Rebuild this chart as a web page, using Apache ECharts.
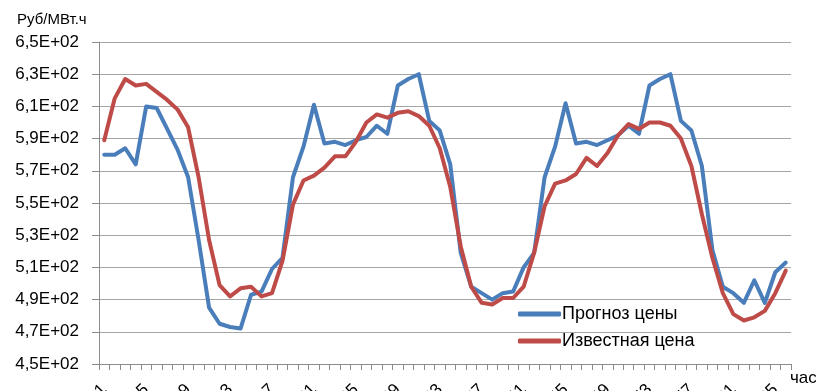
<!DOCTYPE html>
<html>
<head>
<meta charset="utf-8">
<script src="https://cdn.jsdelivr.net/npm/echarts@6/dist/echarts.min.js"></script>
<style>
  html, body { margin: 0; padding: 0; background: #fff; }
  #chart-container { width: 816px; height: 391px; }
</style>
</head>
<body>
<div id="chart-container"></div>
<script>
// hours 1..66
const hours = ['1','2','3','4','5','6','7','8','9','10','11','12','13','14','15','16','17','18','19','20','21','22',
  '23','24','25','26','27','28','29','30','31','32','33','34','35','36','37','38','39','40','41','42','43','44',
  '45','46','47','48','49','50','51','52','53','54','55','56','57','58','59','60','61','62','63','64','65','66'];

const forecastPrice = [580, 580, 584, 574, 610, 609, 596, 583, 566, 527, 485, 475, 473, 472, 493, 495, 509, 516,
  566, 585, 611, 587, 588, 586, 589, 591, 598, 593, 623, 627, 630, 601, 595, 574, 519, 498, 494, 490, 494, 495,
  510, 519, 566, 585, 612, 587, 588, 586, 589, 592, 598, 593, 623, 627, 630, 601, 595, 573, 521, 498, 494, 488,
  502, 488, 507, 513];

const knownPrice = [589, 615, 627, 623, 624, 619, 614, 608, 597, 566, 527, 499, 492, 497, 498, 492, 494, 514,
  549, 564, 567, 572, 579, 579, 588, 600, 605, 603, 606, 607, 604, 598, 584, 560, 523, 498, 488, 487, 491, 491,
  498, 519, 548, 562, 564, 568, 578, 573, 581, 592, 599, 596, 600, 600, 598, 590, 573, 543, 516, 494, 481, 477,
  479, 483, 494, 508];

const yTickLabels = ['4,5E+02', '4,7E+02', '4,9E+02', '5,1E+02', '5,3E+02', '5,5E+02', '5,7E+02', '5,9E+02',
  '6,1E+02', '6,3E+02', '6,5E+02'];

const chartDom = document.getElementById('chart-container');
const myChart = echarts.init(chartDom);
const FONT = 'Liberation Sans';

const option = {
    animation: false,
    title: {
        text: 'Руб/МВт.ч',
        left: 12,
        top: 7,
        textStyle: { fontSize: 15, fontWeight: 'normal', fontFamily: FONT, color: '#000' }
    },
    legend: {
        orient: 'vertical',
        left: 513,
        top: 300,
        icon: 'roundRect',
        itemWidth: 43,
        itemHeight: 5,
        itemGap: 9,
        textStyle: { fontSize: 18, fontFamily: FONT, color: '#000', padding: [0, 0, 0, -4] },
        data: ['Прогноз цены', 'Известная цена']
    },
    // keep the plot box fixed; the rotated hour labels run off the bottom edge
    grid: { left: 99, right: 25, top: 42, bottom: 27, containLabel: false, outerBoundsMode: 'none' },
    xAxis: {
        type: 'category',
        data: hours,
        boundaryGap: true,
        name: 'час',
        nameLocation: 'end',
        nameGap: -1,
        nameTextStyle: { fontSize: 17, fontFamily: FONT, color: '#000', verticalAlign: 'top', padding: [6, 0, 0, 0] },
        axisLine: { lineStyle: { color: '#8c8c8c', width: 1 } },
        axisTick: { show: true, interval: 0, length: 6, lineStyle: { color: '#8c8c8c' } },
        axisLabel: { interval: 3, rotate: 45, margin: 23, fontSize: 17, fontFamily: FONT, color: '#000' },
        splitLine: { show: false }
    },
    yAxis: {
        type: 'value',
        min: 450,
        max: 650,
        interval: 20,
        axisLine: { show: true, lineStyle: { color: '#8c8c8c', width: 1 } },
        axisTick: { show: true, length: 7, lineStyle: { color: '#8c8c8c' } },
        axisLabel: {
            margin: 20,
            fontSize: 17,
            fontFamily: FONT,
            color: '#000',
            formatter: v => yTickLabels[Math.round((v - 450) / 20)]
        },
        splitLine: { lineStyle: { color: '#a6a6a6', width: 1 } }
    },
    series: [
        {
            name: 'Прогноз цены',
            type: 'line',
            data: forecastPrice,
            symbol: 'none',
            color: '#4a7ebb',
            lineStyle: { width: 4, cap: 'round', join: 'round' }
        },
        {
            name: 'Известная цена',
            type: 'line',
            data: knownPrice,
            symbol: 'none',
            color: '#be4b48',
            lineStyle: { width: 4, cap: 'round', join: 'round' }
        }
    ]
};

myChart.setOption(option);
</script>
</body>
</html>
